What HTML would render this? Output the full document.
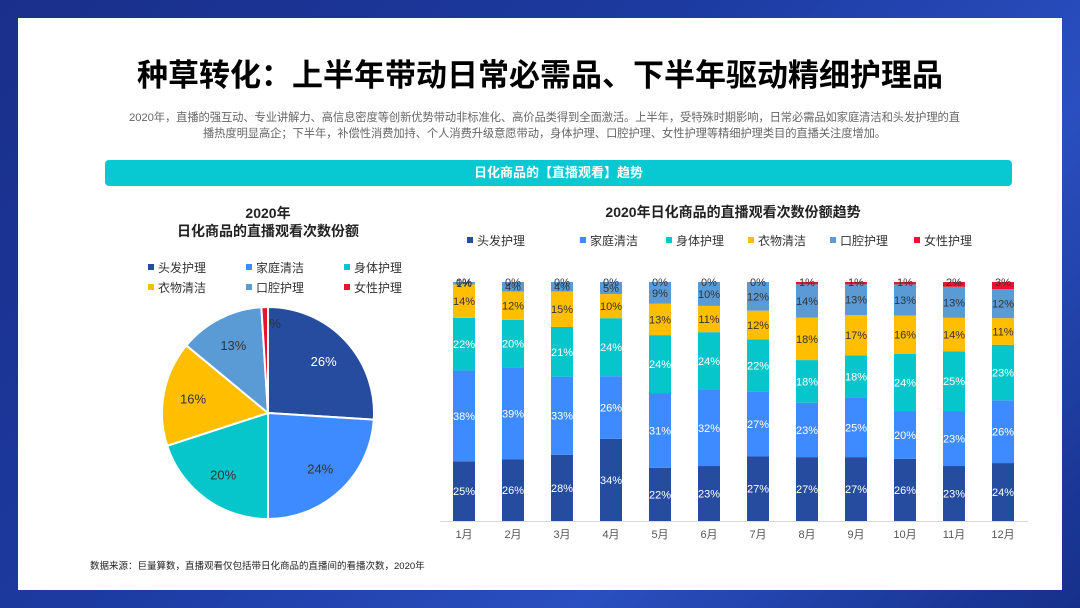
<!DOCTYPE html>
<html><head><meta charset="utf-8"><style>
body{margin:0;width:1080px;height:608px;overflow:hidden;font-family:"Liberation Sans","Noto Sans CJK SC",sans-serif;background:linear-gradient(135deg,#1a2f8a,#1c3aa0 40%,#2a4fc0 70%,#16308a);position:relative}
.panel{position:absolute;left:18px;top:18px;width:1044px;height:572px;background:#fff}
.t{position:absolute;left:0;width:1080px;text-align:center}
</style></head><body>
<div class="panel"></div>
<div class="t" style="top:50px;font-size:31px;font-weight:bold;color:#000">种草转化：上半年带动日常必需品、下半年驱动精细护理品</div>
<div class="t" style="top:110px;font-size:11.3px;color:#666;line-height:16px;left:122px;width:845px;letter-spacing:-0.1px">2020年，直播的强互动、专业讲解力、高信息密度等创新优势带动非标准化、高价品类得到全面激活。上半年，受特殊时期影响，日常必需品如家庭清洁和头发护理的直<br>播热度明显高企；下半年，补偿性消费加持、个人消费升级意愿带动，身体护理、口腔护理、女性护理等精细护理类目的直播关注度增加。</div>
<div style="position:absolute;left:105px;top:160px;width:907px;height:26px;background:#08c8d2;border-radius:4px;color:#fff;font-weight:bold;font-size:13px;text-align:center;line-height:26px">日化商品的【直播观看】趋势</div>
<div class="t" style="top:558px;left:90px;width:auto;text-align:left;font-size:9.5px;color:#222">数据来源：巨量算数，直播观看仅包括带日化商品的直播间的看播次数，2020年</div>
<svg width="1080" height="608" style="position:absolute;left:0;top:0" id="svg"></svg>
<script>
const cats=['头发护理','家庭清洁','身体护理','衣物清洁','口腔护理','女性护理'];
const colors=['#254c9f','#3d8bff','#06c6cc','#ffbe00','#5b9bd5','#e8132f'];
const months=['1月','2月','3月','4月','5月','6月','7月','8月','9月','10月','11月','12月'];
const pieValues=[26,24,20,16,13,1];
const hair=[25,26,28,34,22,23,27,27,27,26,23,24];
const home=[38,39,33,26,31,32,27,23,25,20,23,26];
const body=[22,20,21,24,24,24,22,18,18,24,25,23];
const cloth=[14,12,15,10,13,11,12,18,17,16,14,11];
const oral=[1,4,4,5,9,10,12,14,13,13,13,12];
const female=[0,0,0,0,0,0,0,1,1,1,2,3];
const series=[hair,home,body,cloth,oral,female];
const svg=document.getElementById('svg');const NS='http://www.w3.org/2000/svg';
function mk(tag,attrs,txt){const e=document.createElementNS(NS,tag);for(const k in attrs)e.setAttribute(k,attrs[k]);if(txt!==undefined)e.textContent=txt;svg.appendChild(e);return e;}
let e=mk('text',{x:268,y:218,'text-anchor':'middle','font-size':14,'font-weight':'bold',fill:'#222'},'2020年');

e=mk('text',{x:268,y:236,'text-anchor':'middle','font-size':14,'font-weight':'bold',fill:'#222'},'日化商品的直播观看次数份额');

cats.forEach((c,i)=>{const x=148+(i%3)*98,y=268+Math.floor(i/3)*20;
 let r=mk('rect',{x:x,y:y-4,width:6,height:6,fill:colors[i]});
 let t=mk('text',{x:x+10,y:y+4,'font-size':12,fill:'#333'},c);});
const cx=268,cy=413,R=106;const tot=pieValues.reduce((a,b)=>a+b,0);let a0=0;
pieValues.forEach((v,i)=>{const a1=a0+v/tot*2*Math.PI;
 const p=(a)=>[cx+R*Math.sin(a),cy-R*Math.cos(a)];const [x0,y0]=p(a0),[x1,y1]=p(a1);
 let s=mk('path',{d:`M${cx},${cy}L${x0},${y0}A${R},${R} 0 ${a1-a0>Math.PI?1:0} 1 ${x1},${y1}Z`,fill:colors[i],stroke:'#fff','stroke-width':2});
 
 const am=(a0+a1)/2,lr=i==5?R*0.85:R*0.72;const lx=cx+lr*Math.sin(am)+(i==5?10:0),ly=cy-lr*Math.cos(am)+5;
 let t=mk('text',{x:lx,y:ly,'text-anchor':'middle','font-size':13,fill:i==0?'#fff':'#333'},i==5?'%':v+'%');
 a0=a1;});
e=mk('text',{x:733,y:217,'text-anchor':'middle','font-size':14,'font-weight':'bold',fill:'#222'},'2020年日化商品的直播观看次数份额趋势');

const legX=[467,580,666,748,830,914];
cats.forEach((c,i)=>{let r=mk('rect',{x:legX[i],y:237,width:6,height:6,fill:colors[i]});
 let t=mk('text',{x:legX[i]+10,y:245,'font-size':12,fill:'#333'},c);});
const plotTop=282,plotBot=521,H=plotBot-plotTop,bw=22;const xc=i=>464+i*49;
e=mk('line',{x1:440,x2:1028,y1:plotBot+0.5,y2:plotBot+0.5,stroke:'#d9d9d9'});
months.forEach((m,i)=>{const sum=series.reduce((a,s)=>a+s[i],0);let y=plotBot;
 series.forEach((s,k)=>{const h=s[i]/sum*H;y-=h;
  let r=mk('rect',{x:xc(i)-bw/2,y:y,width:bw,height:h,fill:colors[k]});
  let ty=k==5?y+4:y+h/2+4;
  let t=mk('text',{x:xc(i),y:ty,'text-anchor':'middle','font-size':11,fill:(k>=3)?'#333':'#fff'},s[i]+'%');});
 let t=mk('text',{x:xc(i),y:538,'text-anchor':'middle','font-size':11,fill:'#555'},m);});
</script>
</body></html>
